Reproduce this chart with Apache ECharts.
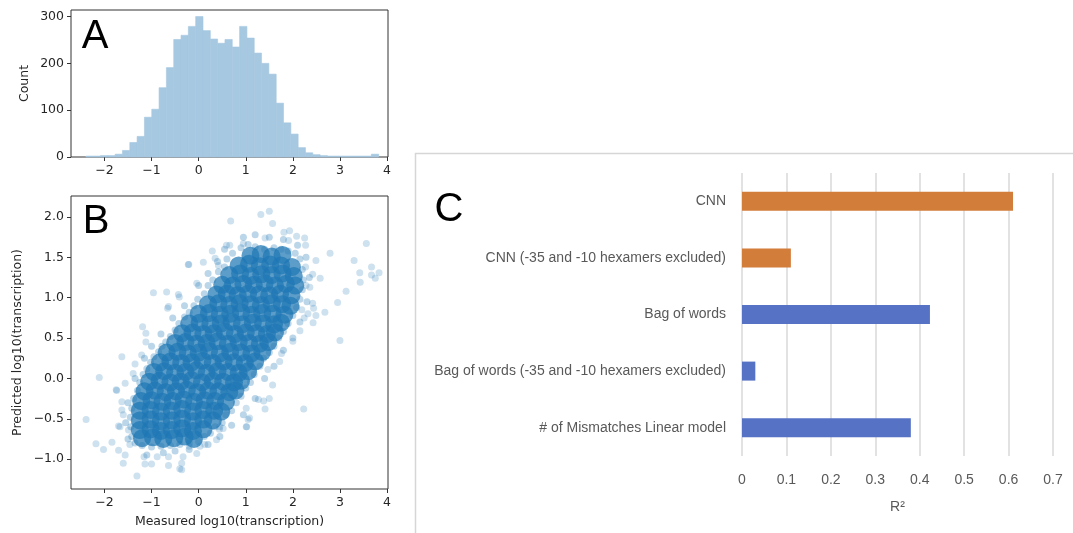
<!DOCTYPE html>
<html><head><meta charset="utf-8">
<script src="https://cdn.jsdelivr.net/npm/echarts@6/dist/echarts.min.js"></script>
<style>html,body{margin:0;padding:0;background:#fff;}#c{width:1073px;height:533px;}</style>
</head><body><div id="c"></div>
<script>
// ---------- Panel A: histogram ----------
const histBinStart = -2.394;
const histBinWidth = 0.1554;
const histCounts = [2,2,3,3,6,14,31,44,85,102,148,191,251,260,279,300,270,252,243,251,235,279,254,222,200,177,115,73,49,20,9,5,3,2,2,2,2,2,2,6];
const xTicks = [-2,-1,0,1,2,3,4];
const countTicks = [0,100,200,300];
const predTicks = [-1,-0.5,0,0.5,1,1.5,2];

// ---------- Panel B: scatter ----------
const scatterCore = [
[1.1,1.52],[1.32,1.54],[1.55,1.51],[1.78,1.53],
[0.85,1.40],[1.07,1.42],[1.3,1.39],[1.52,1.41],[1.75,1.40],[1.98,1.38],
[0.65,1.28],[0.88,1.30],[1.1,1.27],[1.33,1.29],[1.55,1.28],[1.78,1.30],[2.02,1.27],
[0.5,1.16],[0.72,1.15],[0.95,1.17],[1.17,1.16],[1.4,1.18],[1.62,1.15],[1.85,1.17],[2.05,1.15],
[0.38,1.04],[0.6,1.05],[0.83,1.03],[1.05,1.05],[1.28,1.04],[1.5,1.03],[1.73,1.05],[1.97,1.03],
[0.2,0.92],[0.42,0.93],[0.65,0.91],[0.87,0.93],[1.1,0.92],[1.32,0.91],[1.55,0.93],[1.77,0.92],[1.95,0.90],
[0.0,0.80],[0.22,0.81],[0.45,0.79],[0.67,0.80],[0.9,0.82],[1.12,0.79],[1.35,0.81],[1.57,0.80],[1.82,0.79],
[-0.2,0.68],[0.02,0.69],[0.25,0.67],[0.47,0.68],[0.7,0.70],[0.92,0.67],[1.15,0.69],[1.37,0.68],[1.6,0.67],[1.75,0.69],
[-0.35,0.56],[-0.13,0.57],[0.1,0.55],[0.32,0.56],[0.55,0.58],[0.77,0.55],[1.0,0.57],[1.22,0.56],[1.45,0.55],[1.62,0.57],
[-0.5,0.44],[-0.28,0.45],[-0.05,0.43],[0.17,0.44],[0.4,0.46],[0.62,0.43],[0.85,0.45],[1.07,0.44],[1.3,0.43],[1.48,0.45],
[-0.68,0.32],[-0.45,0.33],[-0.23,0.31],[0.0,0.32],[0.22,0.34],[0.45,0.31],[0.67,0.33],[0.9,0.32],[1.12,0.31],[1.35,0.33],
[-0.82,0.20],[-0.6,0.21],[-0.37,0.19],[-0.15,0.20],[0.08,0.22],[0.3,0.19],[0.53,0.21],[0.75,0.20],[0.98,0.19],[1.2,0.21],
[-0.95,0.08],[-0.73,0.09],[-0.5,0.07],[-0.28,0.08],[-0.05,0.10],[0.17,0.07],[0.4,0.09],[0.62,0.08],[0.85,0.07],[1.05,0.09],
[-1.05,-0.04],[-0.83,-0.03],[-0.6,-0.05],[-0.38,-0.04],[-0.15,-0.02],[0.07,-0.05],[0.3,-0.03],[0.52,-0.04],[0.75,-0.05],[0.9,-0.03],
[-1.15,-0.16],[-0.93,-0.15],[-0.7,-0.17],[-0.48,-0.16],[-0.25,-0.14],[-0.03,-0.17],[0.2,-0.15],[0.42,-0.16],[0.65,-0.17],[0.78,-0.15],
[-1.22,-0.28],[-1.0,-0.27],[-0.77,-0.29],[-0.55,-0.28],[-0.32,-0.26],[-0.1,-0.29],[0.13,-0.27],[0.35,-0.28],[0.58,-0.29],
[-1.25,-0.40],[-1.02,-0.39],[-0.8,-0.41],[-0.57,-0.40],[-0.35,-0.38],[-0.12,-0.41],[0.1,-0.39],[0.33,-0.40],[0.48,-0.41],
[-1.25,-0.52],[-1.02,-0.51],[-0.8,-0.53],[-0.57,-0.52],[-0.35,-0.50],[-0.12,-0.53],[0.1,-0.51],[0.3,-0.52],
[-1.25,-0.64],[-1.02,-0.63],[-0.8,-0.65],[-0.57,-0.64],[-0.35,-0.62],[-0.12,-0.65],[0.1,-0.63],
[-1.2,-0.74],[-0.97,-0.73],[-0.75,-0.75],[-0.52,-0.74],[-0.3,-0.72],[-0.1,-0.75]
];
const scatterFringe = [
[0.9,1.62],[1.05,1.66],[1.2,1.63],[1.4,1.6],[1.6,1.62],[1.75,1.6],[1.9,1.58],[0.72,1.55],[0.6,1.48],[0.55,1.38],
[0.42,1.32],[0.3,1.22],[0.2,1.15],[0.12,1.05],[-0.02,0.98],[-0.1,0.9],[-0.2,0.82],[-0.3,0.76],[-0.42,0.68],[-0.5,0.6],
[-0.6,0.52],[-0.7,0.45],[-0.78,0.4],[-0.85,0.33],[-0.95,0.27],[-1.02,0.2],[-1.1,0.12],[-1.18,0.05],[-1.25,-0.05],[-1.3,-0.15],
[-1.38,-0.25],[-1.42,-0.37],[-1.45,-0.48],[-1.44,-0.6],[-1.42,-0.72],[-1.35,-0.8],
[-1.2,-0.83],[-1.0,-0.85],[-0.8,-0.84],[-0.6,-0.83],[-0.4,-0.82],[-0.2,-0.8],[0.0,-0.78],[0.12,-0.72],[0.25,-0.68],[0.35,-0.6],
[0.5,-0.55],[0.58,-0.45],[0.7,-0.4],[0.8,-0.3],[0.9,-0.22],[1.0,-0.12],[1.1,-0.05],[1.18,0.05],[1.3,0.15],[1.38,0.25],
[1.5,0.32],[1.6,0.4],[1.7,0.5],[1.8,0.58],[1.9,0.68],[2.0,0.78],[2.08,0.88],[2.15,0.98],[2.2,1.1],[2.22,1.22],
[2.2,1.35],[2.15,1.48],[2.05,1.55],
[-0.55,0.75],[-0.3,0.9],[0.0,1.15],[0.2,1.3],[0.4,1.45],[0.55,1.6],[-0.8,0.55],[-1.0,0.4],[-1.15,0.25],[-1.35,0.0],
[-1.5,-0.3],[-1.55,-0.55],[-1.5,-0.75],[-1.1,-0.95],[-0.75,-0.92],[-0.5,-0.9],[-0.2,-0.88],[0.2,-0.82],[0.45,-0.72],[0.7,-0.58],
[0.95,-0.45],[1.2,-0.25],[1.4,0.0],[1.6,0.15],[1.8,0.35],[2.0,0.5],[2.15,0.7],[2.3,0.95],[2.35,1.25],[2.28,1.5],
[2.1,1.65],[1.8,1.72],[1.5,1.75],[1.2,1.78],[0.95,1.75]
];
const scatterOutliers = [
[1.32,2.03],[1.50,2.07],[1.57,1.92],[0.68,1.95],[3.56,1.67],[2.79,1.55],[3.30,1.46],[3.67,1.38],[3.83,1.31],[3.75,1.24],
[3.67,1.28],[3.42,1.31],[3.43,1.19],[3.13,1.08],[2.95,0.94],[3.0,0.47],[2.58,1.24],[2.49,1.46],[2.43,0.69],[2.24,0.75],
[2.49,0.78],[2.68,0.82],[2.44,0.87],[2.42,0.93],[2.15,0.59],[2.23,-0.38],[2.0,0.46],[1.76,0.31],[1.41,-0.38],[1.02,-0.60],
[1.05,-0.51],[1.08,-0.49],[0.45,-0.60],[0.03,-0.84],[-2.39,-0.51],[-2.11,0.01],[-2.18,-0.81],[-2.02,-0.88],[-1.75,-0.14],[-1.63,0.27],
[-1.35,0.18],[-1.31,-1.21],[-0.96,1.06],[-0.68,1.07],[-0.66,0.87],[-0.43,1.04],[-0.41,1.01],[-0.21,1.41],[0.10,1.44],[0.29,1.58],
[-1.19,0.64],[-1.12,0.56],[-1.12,0.45],[-0.40,-1.12],[-0.36,-1.05],[-0.64,-1.08],[-1.0,-1.06],[-1.14,-1.06],[-1.16,-0.97],[-1.60,-1.05],
[-1.56,-0.95],[-1.70,-0.89],[-1.84,-0.79],[-0.88,-0.97],[-0.64,-0.97],[-0.33,-0.97],[-0.36,-1.13],[-0.04,-0.93],[-0.2,-0.84],[0.13,-0.82],
[-1.67,-0.60],[-1.49,-0.64],[-1.63,-0.39],[-1.63,-0.29],[-1.6,-0.45],[-1.56,-0.06],[-1.39,0.06],[-1.21,0.29],[-1.46,-0.82],[-1.70,-0.59],
[-1.74,-0.15],[0.66,1.65],[0.59,1.65],[0.95,1.67],[1.16,1.46],[1.81,1.81],[1.93,1.83],[2.08,1.76],[2.25,1.74],[2.27,1.65],
[1.41,1.74],[1.91,1.71],[2.27,1.38],[2.42,1.29],[2.28,1.15],[2.36,1.13],[2.32,0.80],[2.19,0.85],[1.57,-0.08],[1.27,-0.26],
[1.38,-0.28],[1.5,-0.25],[1.01,-0.37],[1.01,-0.60],[1.72,0.21],[1.47,0.11],[0.38,-0.76],[0.52,-0.62],[0.44,-0.63],[-0.22,1.41],
[-0.64,0.89],[-0.04,1.18],[0.35,1.49],[0.42,1.40]
];

// ---------- Panel C: bar chart ----------
const modelNames = ['CNN','CNN (-35 and -10 hexamers excluded)','Bag of words','Bag of words (-35 and -10 hexamers excluded)','# of Mismatches Linear model'];
const modelR2 = [0.61, 0.11, 0.423, 0.03, 0.38];
const modelColors = ['#d37d3b','#d37d3b','#5672c4','#5672c4','#5672c4'];

const mpl = {fontFamily:'DejaVu Sans', fontSize:12.5, color:'#262626'};
const minus = v => String(v).replace('-', '\u2212');
const tickStyle = {show:true, inside:false, length:4, lineStyle:{color:'#333', width:1}};
const noLine = {show:false, onZero:false};

const histData = histCounts.map((c,i)=>[histBinStart+i*histBinWidth, histBinStart+(i+1)*histBinWidth, c]);

const chart = echarts.init(document.getElementById('c'), null, {renderer:'canvas'});
chart.setOption({
  animation:false,
  backgroundColor:'#fff',
  grid:[
    {left:71, top:10, width:317, height:147, show:true, borderColor:'#333', borderWidth:1, backgroundColor:'transparent'},
    {left:71, top:196, width:317, height:293, show:true, borderColor:'#333', borderWidth:1, backgroundColor:'transparent'},
    {left:742, top:173, width:311, height:283, show:false}
  ],
  xAxis:[
    {gridIndex:0, type:'value', min:-2.71, max:4.02, splitLine:{show:false}, axisLine:noLine,
     axisTick:Object.assign({customValues:xTicks}, tickStyle),
     axisLabel:Object.assign({customValues:xTicks, margin:7, formatter:minus}, mpl)},
    {gridIndex:1, type:'value', min:-2.71, max:4.02, splitLine:{show:false}, axisLine:noLine,
     axisTick:Object.assign({customValues:xTicks}, tickStyle),
     axisLabel:Object.assign({customValues:xTicks, margin:7, formatter:minus}, mpl),
     name:'Measured log10(transcription)', nameLocation:'middle', nameGap:26, nameTextStyle:mpl},
    {gridIndex:2, type:'value', min:0, max:0.7, interval:0.1,
     splitLine:{show:true, lineStyle:{color:'#d9d9d9', width:1.5}},
     axisLine:noLine, axisTick:{show:false},
     axisLabel:{color:'#595959', fontFamily:'Liberation Sans', fontSize:14, margin:17},
     name:'R\u00B2', nameLocation:'middle', nameGap:44,
     nameTextStyle:{color:'#595959', fontFamily:'Liberation Sans', fontSize:14}}
  ],
  yAxis:[
    {gridIndex:0, type:'value', min:0, max:314, splitLine:{show:false}, axisLine:noLine,
     axisTick:Object.assign({customValues:countTicks}, tickStyle),
     axisLabel:Object.assign({customValues:countTicks, margin:7}, mpl),
     name:'Count', nameLocation:'middle', nameGap:40, nameTextStyle:mpl},
    {gridIndex:1, type:'value', min:-1.37, max:2.26, splitLine:{show:false}, axisLine:noLine,
     axisTick:Object.assign({customValues:predTicks}, tickStyle),
     axisLabel:Object.assign({customValues:predTicks, margin:7, formatter:v=>minus(Number(v).toFixed(1))}, mpl),
     name:'Predicted log10(transcription)', nameLocation:'middle', nameGap:47, nameTextStyle:mpl},
    {gridIndex:2, type:'category', inverse:true, data:modelNames,
     axisLine:noLine, axisTick:{show:false},
     axisLabel:{color:'#595959', fontFamily:'Liberation Sans', fontSize:14, margin:16}}
  ],
  series:[
    {type:'custom', xAxisIndex:0, yAxisIndex:0, data:histData, encode:{x:[0,1], y:2},
     renderItem:function(params, api){
       const p0 = api.coord([api.value(0), api.value(2)]);
       const p1 = api.coord([api.value(1), 0]);
       return {type:'rect', shape:{x:p0[0], y:p0[1], width:p1[0]-p0[0], height:p1[1]-p0[1]},
               style:{fill:'#a6c8e1', stroke:'#a6c8e1', lineWidth:0.6}};
     }},
    {type:'scatter', xAxisIndex:1, yAxisIndex:1, data:scatterCore, symbolSize:18,
     itemStyle:{color:'#1f77b4', opacity:0.72}},
    {type:'scatter', xAxisIndex:1, yAxisIndex:1, data:scatterFringe, symbolSize:7,
     itemStyle:{color:'#1f77b4', opacity:0.3}},
    {type:'scatter', xAxisIndex:1, yAxisIndex:1, data:scatterOutliers, symbolSize:7,
     itemStyle:{color:'#1f77b4', opacity:0.22}},
    {type:'bar', xAxisIndex:2, yAxisIndex:2, barWidth:19,
     data:modelR2.map((v,i)=>({value:v, itemStyle:{color:modelColors[i]}}))}
  ],
  graphic:[
    {type:'rect', shape:{x:415.5, y:153.5, width:700, height:400}, style:{fill:'none', stroke:'#d6d6d6', lineWidth:1.5}, z:-1},
    {type:'text', x:95, y:37, style:{text:'A', font:'40px "Liberation Sans"', fill:'#000', align:'center', verticalAlign:'middle'}},
    {type:'text', x:96, y:222, style:{text:'B', font:'40px "Liberation Sans"', fill:'#000', align:'center', verticalAlign:'middle'}},
    {type:'text', x:449, y:210, style:{text:'C', font:'40px "Liberation Sans"', fill:'#000', align:'center', verticalAlign:'middle'}}
  ]
});
</script></body></html>
